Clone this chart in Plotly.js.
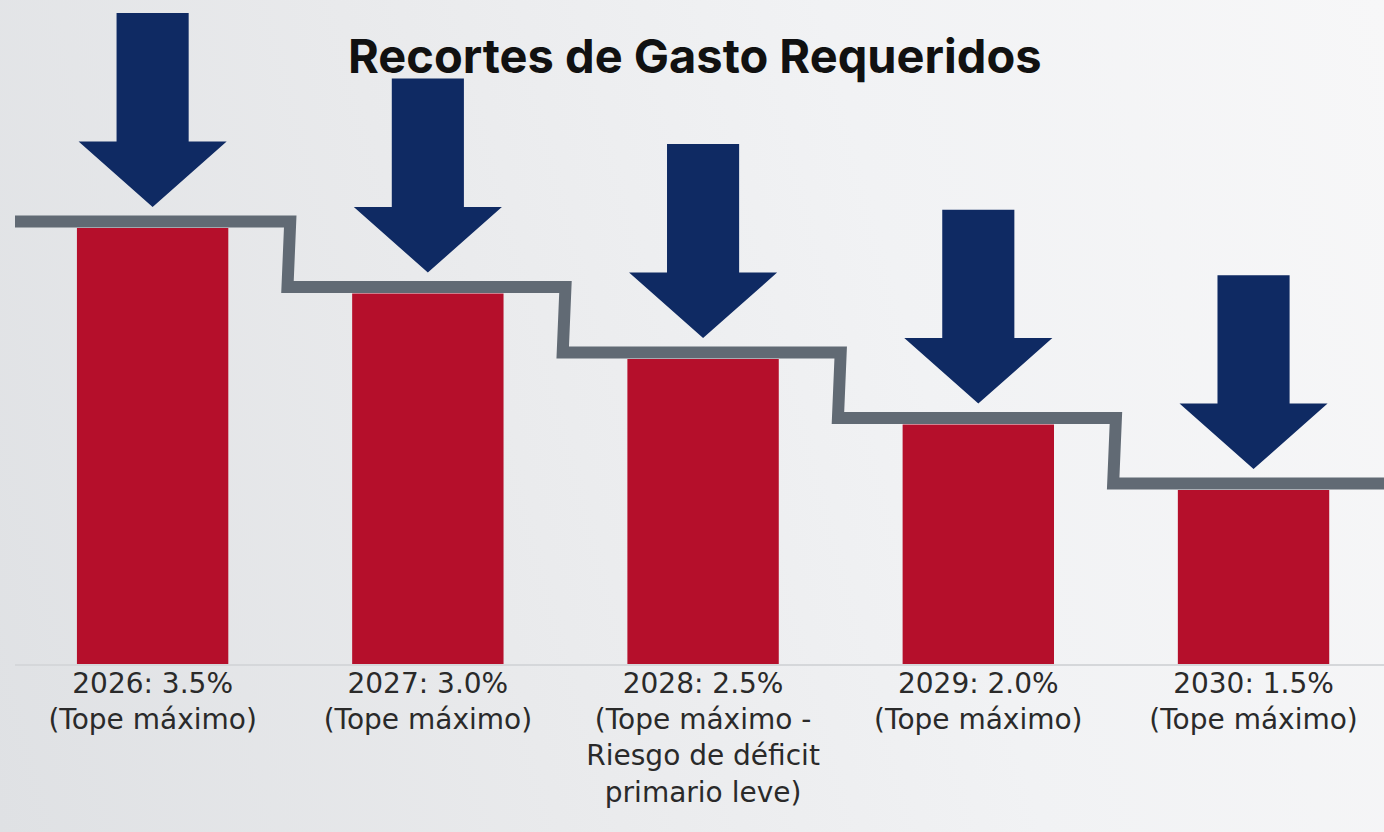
<!DOCTYPE html>
<html>
<head>
<meta charset="utf-8">
<script src="https://cdn.plot.ly/plotly-3.0.1.min.js"></script>
<style>
  html, body { margin: 0; padding: 0; width: 1384px; height: 832px; overflow: hidden; }
  body { background: linear-gradient(75deg, #dfe1e4 0%, #e9eaec 35%, #f1f2f4 65%, #f7f7f8 100%); }
  #chart { width: 1384px; height: 832px; }
</style>
</head>
<body>
<div id="chart"></div>
<script>
// ---- data ----
var years = ["2026", "2027", "2028", "2029", "2030"];
var values = [3.5, 3.0, 2.5, 2.0, 1.5];
var tickLabels = [
  "2026: 3.5%<br>(Tope máximo)",
  "2027: 3.0%<br>(Tope máximo)",
  "2028: 2.5%<br>(Tope máximo -<br>Riesgo de déficit<br>primario leve)",
  "2029: 2.0%<br>(Tope máximo)",
  "2030: 1.5%<br>(Tope máximo)"
];
var titleText = "Recortes de Gasto Requeridos";

// ---- styling ----
var RED = "#b50f2b", GRAY = "#616a74", NAVY = "#0f2a63";
var idx = years.map(function (_, i) { return i; });

var traces = [];

// bars
traces.push({
  type: "bar", x: idx, y: values, width: 0.55,
  marker: { color: RED, line: { width: 0 } },
  hoverinfo: "skip", showlegend: false
});

// step line (cap level sits just above each bar)
var lineOff = 0.05;
var sx = [], sy = [];
values.forEach(function (v, i) {
  sx.push(i - 0.51, i + 0.5);
  sy.push(v + lineOff, v + lineOff);
});
traces.push({
  type: "scatter", mode: "lines", x: sx, y: sy,
  line: { color: GRAY, width: 12 }, hoverinfo: "skip", showlegend: false
});

// down arrows above each bar
var tipOff = 0.16, headH = 0.5, arrowLen = 1.48, shaftHW = 0.131, headHW = 0.269;
values.forEach(function (v, i) {
  var tip = v + tipOff;
  traces.push({
    type: "scatter", mode: "lines", fill: "toself", fillcolor: NAVY,
    x: [i - shaftHW, i + shaftHW, i + shaftHW, i + headHW, i, i - headHW, i - shaftHW, i - shaftHW],
    y: [tip + arrowLen, tip + arrowLen, tip + headH, tip + headH, tip, tip + headH, tip + headH, tip + arrowLen],
    line: { width: 0, color: NAVY }, hoverinfo: "skip", showlegend: false
  });
});

var layout = {
  width: 1384, height: 832,
  margin: { l: 15, r: 0, t: 0, b: 168 },
  paper_bgcolor: "rgba(0,0,0,0)", plot_bgcolor: "rgba(0,0,0,0)",
  title: {
    text: titleText,
    font: { family: "Inter, 'Liberation Sans', sans-serif", size: 47, color: "#111111", weight: 700 },
    xref: "container", x: 0.502, xanchor: "center",
    yref: "container", y: 1 - 57 / 832, yanchor: "middle"
  },
  xaxis: {
    range: [-0.5, 4.474], tickvals: idx, ticktext: tickLabels,
    showgrid: false, zeroline: false,
    showline: true, linecolor: "#d5d7da", linewidth: 2,
    ticks: "", ticklabelstandoff: -7,
    tickfont: { family: "'DejaVu Sans', sans-serif", size: 28, color: "#2a2a2a" },
    fixedrange: true
  },
  yaxis: {
    range: [0.172, 5.24], visible: false, showgrid: false, zeroline: false, fixedrange: true
  },
  showlegend: false
};

Plotly.newPlot("chart", traces, layout, { displayModeBar: false, staticPlot: true });
</script>
</body>
</html>
